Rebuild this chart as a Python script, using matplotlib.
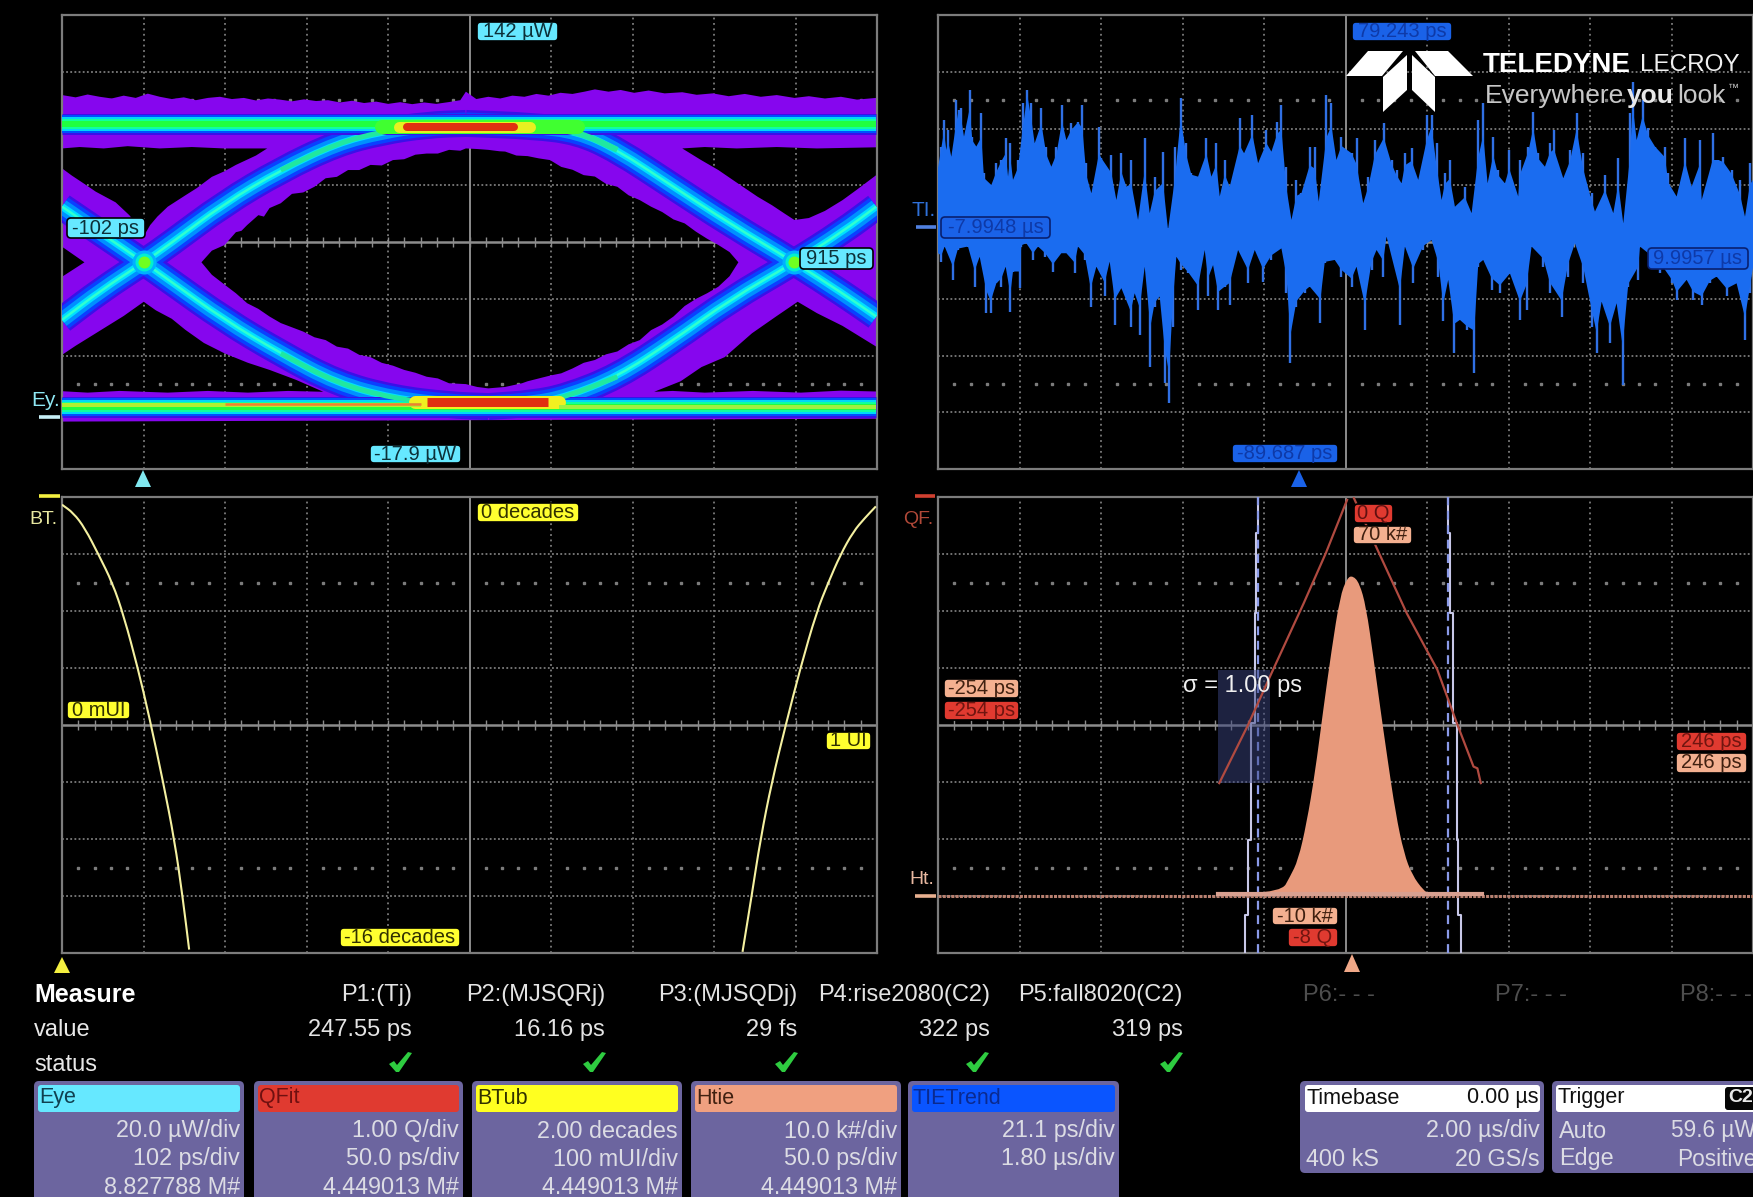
import numpy as np
import matplotlib
matplotlib.use("Agg")
import matplotlib.pyplot as plt
from matplotlib.patches import FancyBboxPatch, Polygon, Rectangle, PathPatch
from matplotlib.path import Path

W, H = 1753, 1197
FONT = ['Liberation Sans', 'DejaVu Sans']
plt.rcParams['font.family'] = FONT

# ---------- Eye diagram (x in ps, y in uW) ----------
eye_xlim = (-102, 915)
eye_ylim = (-17.9, 142)
eye_top_x = [-102,-85,-70,-55,-40,-25,-10,5,20,35,50,65,80,95,110,125,140,155,170,185,200,215,230,245,260,275,290,305,320,335,350,365,380,395,402,415,430,445,460,475,490,505,520,535,550,563,580,595,612,630,650,672,690,710,730,750,770,790,812,830,850,870,890,914]
eye_top_y = [113.8,113.0,114.0,113.2,112.6,113.6,112.8,114.3,113.2,112.4,113.0,112.0,112.8,113.2,112.4,112.8,111.9,112.6,112.2,111.6,112.3,111.7,112.0,111.2,111.8,111.0,111.5,110.7,111.3,110.6,111.2,110.7,111.3,112.0,115.0,112.4,113.2,112.6,113.6,113.2,114.2,113.6,114.6,114.2,115.0,115.8,115.0,115.6,114.6,115.4,114.4,114.8,113.9,114.4,113.4,114.2,113.2,113.8,112.8,113.4,112.6,113.2,112.2,112.8]
eye_bot_x = [-102,914]
eye_bot_y = [-1.2,-0.2]
hole_center_x = [72,85,101,115,122,129,143,150,157,171,185,199,213,227,241,255,269,283,297,311,325,339,353,367,381,395,402,416,430,444,451,465,479,493,507,521,535,549,563,577,591,605,619,633,647,661,675,689,703,717,731,742,731,717,703,689,675,661,647,633,619,605,591,577,563,549,535,521,507,493,479,472,451,430,416,402,381,367,353,339,325,311,297,283,269,255,241,227,213,199,185,171,157,143,129,115,101,85]
hole_center_y = [54.9,59,61,65.5,66,68,71.5,71,74,75.7,79,79.5,81.5,84.5,85,87.4,87.4,89.2,89,90.9,91.2,92.8,93.2,93.2,94.5,94.2,95,94.8,94.5,94,93.9,92.5,92.3,91.5,90.9,88.5,87.5,85.6,85.1,82.5,81.5,78.5,76.8,74.5,72.6,70,68.6,65.7,63.2,61,58.5,54.9,50,46.3,44,42,39.5,35.8,33,31,27.5,26,23.5,22.5,20.5,19.5,17.5,15.8,15,14,13,12.3,11,10.5,11,12,12.3,14,14.6,16,17,18.5,19.5,21.5,22.3,24.5,25.2,27.5,28.5,30.5,32,33.5,35.8,38.5,40.5,44,47,50.5]
hole_ul_x = [-102,-80,-50,-20,20,60,100,154,140,115,101,85,66,52,30,17,8,2,-8,-18,-35,-60,-74,-90,-102]
hole_ul_y = [95,95.5,95,95.8,95,95.5,95,95,92.5,89.2,87,85,81,78.5,74.5,71,68,65.1,68,71.5,76,79.8,82.5,85.5,88]
hole_ur_x = [672,700,740,790,840,914,914,890,872,850,830,812,800,784,766,745,717,695]
hole_ur_y = [95,95.5,95,95.5,95,95.4,85.6,80.5,76.8,73,70.5,69.8,72,75,78,82,87.4,91]
hole_ll_x = [-102,-85,-53,-25,0,15,35,52,75,101,130,157,190,224,180,130,80,30,-30,-70,-102]
hole_ll_y = [22.3,25.5,31.1,36,41,38,35,31.1,26.5,22.8,19.5,17,13.5,9.3,9.6,9,9.6,9,9.6,9,9.5]
hole_lr_x = [637,670,696,725,759,790,816,840,872,914,914,870,820,760,700,660]
hole_lr_y = [9.3,13,18,21.5,29.9,36,41,37,32.5,25.2,9.4,9.7,9,9.6,9,9.6]
hole_notch_x = [-102,-74,-102]
hole_notch_y = [60.4,54.9,49.8]
rise_a_x = [-102,-53,0,31,101,171,241,297,353,402]
rise_a_y = [34.6,45.1,54.9,61,75.7,87.4,96.8,100.9,103.3,103.8]
fall_a_x = [-102,-53,0,31,101,171,241,311,381,430]
fall_a_y = [74.5,65.1,54.9,48.7,34.6,22.8,12.3,7,4.6,4.1]
fall_b_x = [402,486,542,591,661,731,812,872,914]
fall_b_y = [103.8,102.9,100.9,94.5,81.5,68.6,54.9,44,35.8]
rise_b_x = [430,486,528,591,661,731,812,872,914]
rise_b_y = [4.1,5.2,7.6,14.6,27.5,41.6,54.9,65.7,74.5]
rail_x = [-102,914]
rail_top_y = [103.6,103.6]
rail_bot_y = [4.1,4.1]
cross_x = [0,812]
cross_y = [54.9,54.9]

# ---------- TIE trend (x in us, y in ps) ----------
tie_xlim = (-7.9948,9.9957)
tie_ylim = (-89.687,79.243)
tie_up_t = [-7.995,-7.936,-7.863,-7.811,-7.774,-7.701,-7.590,-7.539,-7.480,-7.421,-7.296,-7.237,-7.149,-7.038,-6.979,-6.817,-6.707,-6.597,-6.501,-6.449,-6.398,-6.339,-6.229,-6.118,-6.023,-5.934,-5.861,-5.713,-5.603,-5.493,-5.382,-5.257,-5.161,-5.051,-4.904,-4.808,-4.720,-4.609,-4.440,-4.389,-4.168,-4.057,-3.947,-3.837,-3.726,-3.579,-3.432,-3.321,-3.211,-3.027,-2.917,-2.769,-2.637,-2.512,-2.401,-2.254,-2.070,-1.960,-1.849,-1.776,-1.665,-1.555,-1.334,-1.238,-1.055,-0.929,-0.745,-0.635,-0.503,-0.414,-0.304,-0.193,-0.083,0.027,0.211,0.322,0.410,0.579,0.690,0.800,0.911,1.134,1.244,1.392,1.502,1.649,1.848,2.017,2.128,2.238,2.312,2.459,2.606,2.790,2.900,3.011,3.121,3.195,3.305,3.416,3.636,3.784,3.931,4.041,4.137,4.262,4.372,4.520,4.615,4.814,4.851,5.035,5.145,5.256,5.403,5.513,5.602,5.808,5.955,6.102,6.249,6.433,6.507,6.728,6.912,7.022,7.132,7.280,7.338,7.427,7.559,7.684,7.832,8.052,8.126,8.310,8.494,8.641,8.825,8.862,9.105,9.230,9.340,9.524,9.708,9.819,9.929,9.996]
tie_up_v = [25.3,30.3,40.2,29.0,36.5,26.5,47.6,43.9,44.5,34.0,51.3,34.0,30.3,42.7,20.3,16.0,24.1,25.3,33.4,19.1,31.5,17.9,25.3,46.4,51.3,46.4,31.5,44.5,30.3,22.8,30.3,45.8,32.7,39.0,39.6,45.8,24.1,12.9,37.7,26.0,27.2,10.4,27.8,15.4,25.3,3.0,33.4,5.5,19.1,28.4,-0.7,30.3,48.2,31.5,20.3,19.1,33.4,19.1,31.5,11.7,25.3,15.4,40.8,27.8,42.0,24.1,36.5,28.4,39.6,45.8,22.8,3.0,17.9,12.9,30.3,30.3,9.8,49.5,46.4,25.3,34.0,27.8,33.4,9.2,19.1,32.7,39.0,25.3,21.6,16.6,27.8,29.6,17.9,42.0,42.0,31.5,10.4,20.3,25.3,7.9,15.4,5.5,40.2,46.4,16.6,34.0,21.6,16.6,29.0,11.7,25.3,30.3,43.3,27.8,22.8,31.5,36.5,18.5,29.0,42.7,27.8,12.9,6.1,19.7,5.5,25.9,1.7,42.7,54.4,32.7,47.6,37.1,30.3,30.3,20.3,11.7,33.4,15.4,32.7,10.4,35.2,25.3,26.5,21.6,17.9,4.2,24.1,17.9]
tie_lo_t = [-7.995,-7.921,-7.848,-7.664,-7.553,-7.333,-7.185,-7.075,-6.928,-6.832,-6.707,-6.597,-6.501,-6.398,-6.339,-6.192,-6.155,-6.045,-5.897,-5.787,-5.640,-5.456,-5.272,-5.161,-4.977,-4.904,-4.757,-4.624,-4.499,-4.315,-4.205,-4.094,-3.947,-3.741,-3.653,-3.542,-3.432,-3.307,-3.211,-3.101,-2.990,-2.895,-2.806,-2.733,-2.622,-2.475,-2.254,-2.107,-2.033,-1.923,-1.813,-1.665,-1.555,-1.371,-1.150,-1.003,-0.819,-0.635,-0.414,-0.304,-0.215,-0.083,0.101,0.211,0.447,0.543,0.763,0.911,1.134,1.244,1.428,1.576,1.686,1.833,1.907,2.201,2.312,2.496,2.716,2.900,3.048,3.158,3.268,3.401,3.526,3.673,3.842,3.931,4.041,4.225,4.409,4.630,4.851,4.998,5.108,5.366,5.513,5.771,5.918,6.065,6.249,6.433,6.544,6.654,6.838,6.985,7.118,7.243,7.464,7.500,7.942,8.200,8.310,8.531,8.678,8.862,9.046,9.193,9.414,9.634,9.819,9.929,9.996]
tie_lo_v = [-9.4,-12.5,-6.9,-19.3,-8.2,-6.9,-21.8,-10.7,-31.7,-31.7,-20.6,-21.8,-14.4,-31.1,-16.2,-22.4,-6.9,-5.7,-11.9,-6.9,-10.7,-16.2,-9.4,-9.4,-16.9,-6.9,-11.9,-29.3,-14.4,-25.5,-12.5,-36.1,-22.4,-36.7,-24.3,-39.8,-14.4,-51.6,-29.3,-25.5,-57.8,-65.2,-36.7,-10.7,-15.6,-16.9,-30.5,-8.2,-25.5,-13.8,-30.5,-21.8,-28.6,-8.2,-20.6,-8.2,-20.0,-11.9,-7.6,-24.3,-50.3,-29.3,-24.3,-21.8,-35.5,-13.1,-11.9,-18.1,-21.8,-14.4,-37.9,-15.6,-8.2,-18.1,-3.2,-36.1,-6.9,-20.6,-8.2,-4.5,-18.1,-34.8,-19.3,-46.6,-34.2,-37.9,-54.1,-14.4,-11.9,-23.1,-24.3,-16.9,-34.2,-30.5,-6.9,-14.4,-24.3,-33.0,-18.1,-5.7,-20.6,-36.7,-46.6,-27.4,-42.9,-28.0,-58.4,-21.8,-19.3,-6.9,-16.9,-20.6,-26.8,-19.3,-26.8,-28.6,-20.6,-18.1,-25.5,-20.6,-41.7,-24.3,-18.1]

# ---------- Bathtub (x in UI, y in decades) ----------
tub_l_x = [0,0.014,0.028,0.045,0.062,0.076,0.093,0.107,0.124,0.138,0.148,0.156]
tub_l_y = [-0.27,-0.56,-1.09,-2.03,-3.02,-4.19,-6.0,-7.7,-9.99,-12.04,-14.03,-15.88]
tub_r_x = [0.835,0.846,0.857,0.871,0.888,0.906,0.926,0.94,0.955,0.971,0.985,0.9986]
tub_r_y = [-15.96,-14.03,-12.01,-9.99,-8.0,-6.0,-4.02,-3.02,-2.03,-1.21,-0.74,-0.33]

# ---------- Histogram + Q fit (x in ps, y in k# / Q) ----------
hist_x = [-81,-41.5,-36.3,-31.2,-26,-20.8,-15.7,-10.5,-5.3,-0.9,2.6,6.7,10.8,15.3,19.5,23.9,29.1,34.3,39.4,46.3,49.8,82.5]
hist_y = [0.3,0.72,3.35,6.28,12.72,21.5,32.6,43.2,52.5,55.8,56.2,54.9,50.8,42,33.2,24.4,14.5,7.45,3.65,1.0,0.42,0.3]
qfit_l_x = [-80,-62.2,-46.7,-27.7,-14,-0.9]
qfit_l_y = [-5.02,-4.0,-3.03,-1.86,-0.98,-0.05]
qfit_r_x = [3.3,17,36,54.9,67,77.3,79.7,81.8]
qfit_r_y = [-0.02,-0.87,-2.04,-3.03,-3.97,-4.73,-4.76,-5.02]
edge_y = [70,63.7,63.7,49.6,49.6,30.3,30.3,9.8,9.8,-3.4,-3.4,-10]
edge_l_x = [-56,-56,-57,-57,-58,-58,-60.4,-60.4,-62.2,-62.2,-63.9,-63.9]
edge_r_x = [61.8,61.8,62.8,62.8,64.6,64.6,67,67,68,68,69.7,69.7]
dash_x = [-56,61.8]
sigma_box = (-81,-48.4,-5.02,-3.03)

# ---------- Readout table ----------
meas_names = ['P1:(Tj)','P2:(MJSQRj)','P3:(MJSQDj)','P4:rise2080(C2)','P5:fall8020(C2)']
meas_vals = ['247.55 ps','16.16 ps','29 fs','322 ps','319 ps']
meas_right = [412,605,797,990,1183]
check_x = [400,594,786,977,1171]
idle_names = ['P6:- - -','P7:- - -','P8:- - -']
idle_left = [1303,1495,1680]
cards = [
    ('Eye','#66e8ff','#104050',34,244,['20.0 µW/div','102 ps/div','8.827788 M#']),
    ('QFit','#e03a30','#701010',254,463,['1.00 Q/div','50.0 ps/div','4.449013 M#']),
    ('BTub','#ffff20','#303000',472,682,['2.00 decades','100 mUI/div','4.449013 M#']),
    ('Htie','#f0a080','#402010',691,901,['10.0 k#/div','50.0 ps/div','4.449013 M#']),
    ('TIETrend','#0a55ff','#0a2a90',908,1119,['21.1 ps/div','1.80 µs/div','']),
]
CARD = '#6c659f'
CARDTXT = '#dcdce4'
GRID = '#7c7c7c'

fig = plt.figure(figsize=(W/100, H/100), dpi=100, facecolor='black')

def px(l):
    return l*72/100

def smooth_path(x, y):
    verts = [(x[0], y[0])]
    codes = [Path.MOVETO]
    for i in range(1, len(x)-1):
        verts.append(((x[i-1]+x[i])/2, (y[i-1]+y[i])/2)); codes.append(Path.LINETO)
        verts.append((x[i], y[i])); codes.append(Path.CURVE3)
        verts.append(((x[i]+x[i+1])/2, (y[i]+y[i+1])/2)); codes.append(Path.CURVE3)
    verts.append((x[-1], y[-1])); codes.append(Path.LINETO)
    return verts, codes

def smooth(ax, x, y, color, lw, z):
    v, c = smooth_path(x, y)
    ax.add_patch(PathPatch(Path(v, c), fc='none', ec=color, lw=lw, capstyle='butt', joinstyle='round', zorder=z))

def panel(x0, y0, x1, y1):
    ax = fig.add_axes([x0/W, 1-y1/H, (x1-x0)/W, (y1-y0)/H], facecolor='black')
    ax.set_xticks([]); ax.set_yticks([])
    for s in ax.spines.values():
        s.set_color('#7c7c7c'); s.set_linewidth(1.6)
    t = ax.transAxes
    for i in range(1,10):
        if i != 5:
            ax.plot([i/10,i/10],[0,1],transform=t,color=GRID,lw=1.3,ls=(0,(1,2)),zorder=1)
    for j in range(1,8):
        if j != 4:
            ax.plot([0,1],[j/8,j/8],transform=t,color=GRID,lw=1.3,ls=(0,(1,1.3)),zorder=1)
    minor = [k/50 for k in range(1,50) if k % 5]
    for yy in (1.5/8, 6.5/8):
        ax.plot(minor,[yy]*len(minor),ls='',marker='s',ms=1.5,color=GRID,transform=t,zorder=1)
    ax.plot([0.5,0.5],[0,1],transform=t,color='#8c8c8c',lw=1.4,zorder=1)
    ax.plot([0,1],[0.5,0.5],transform=t,color='#8c8c8c',lw=1.8,zorder=1)
    ticks = [k/50 for k in range(1,50)]
    ax.vlines(ticks,0.488,0.512,transform=t,color='#8c8c8c',lw=1.0,zorder=1)
    return ax

def ring(x, y, ccw):
    x = list(x); y = list(y)
    area = sum(x[i]*y[(i+1)%len(x)]-x[(i+1)%len(x)]*y[i] for i in range(len(x)))
    if (area > 0) != ccw:
        x, y = x[::-1], y[::-1]
    return x, y

# ---- Eye panel ----
ax = panel(62,15,877,469)
ax.set_xlim(*eye_xlim); ax.set_ylim(*eye_ylim)
PUR = '#8606ee'
ox, oy = ring(eye_top_x+eye_bot_x[::-1], eye_top_y+eye_bot_y[::-1], True)
verts = []; codes = []
def add_ring(x, y):
    verts.extend(zip(x, y)); verts.append((x[0], y[0]))
    codes.extend([Path.MOVETO]+[Path.LINETO]*(len(x)-1)+[Path.CLOSEPOLY])
add_ring(ox, oy)
for hx, hy in [(hole_center_x,hole_center_y),(hole_ul_x,hole_ul_y),(hole_ur_x,hole_ur_y),
               (hole_ll_x,hole_ll_y),(hole_lr_x,hole_lr_y),(hole_notch_x,hole_notch_y)]:
    add_ring(*ring(hx, hy, False))
ax.add_patch(PathPatch(Path(verts, codes), fc=PUR, ec='none', zorder=2))
curves = [(rise_a_x,rise_a_y),(fall_a_x,fall_a_y),(fall_b_x,fall_b_y),(rise_b_x,rise_b_y)]
for lw_px, c in [(27,'#3a10e8'),(22,'#0a40ff'),(15,'#0090ff'),(7,'#00e0ff'),(2.5,'#30ffd0')]:
    for cx, cy in curves:
        smooth(ax, cx, cy, c, px(lw_px), 4)
for lw_px, c in [(21,'#3a10e8'),(18,'#0050ff'),(14,'#00d8f8'),(10,'#10ffa0'),(6,'#20ff40')]:
    ax.plot(rail_x, rail_top_y, color=c, lw=px(lw_px), solid_capstyle='butt', zorder=5)
    ax.plot(rail_x, rail_bot_y, color=c, lw=px(lw_px), solid_capstyle='butt', zorder=5)
# warm zones where traces pile up
smooth(ax, rise_a_x[5:9], rise_a_y[5:9], '#20e8a0', px(5), 5)
smooth(ax, fall_b_x[0:4], fall_b_y[0:4], '#20e8a0', px(6), 5)
smooth(ax, fall_a_x[5:9], fall_a_y[5:9], '#20e8a0', px(5), 5)
smooth(ax, rise_b_x[0:4], rise_b_y[0:4], '#20e8a0', px(5), 5)
ax.plot([297,542],[102.7,102.7], color='#40ff30', lw=px(14), solid_capstyle='round', zorder=6)
ax.plot([318,482],[102.7,102.7], color='#e8f020', lw=px(11), solid_capstyle='round', zorder=6)
ax.plot([328,462],[102.5,102.5], color='#e03010', lw=px(8), solid_capstyle='round', zorder=6)
ax.plot([339,518],[5.6,5.6], color='#f0f020', lw=px(13), solid_capstyle='round', zorder=6)
ax.plot([353,504],[5.6,5.6], color='#e03010', lw=px(9), solid_capstyle='butt', zorder=6)
ax.plot([-102,346],[4.6,4.6], color='#b0f030', lw=px(4), solid_capstyle='butt', zorder=6)
ax.plot([101,346],[5.0,5.0], color='#f08030', lw=px(2.5), solid_capstyle='butt', zorder=6)
ax.plot([518,914],[4.1,4.1], color='#a0f040', lw=px(4), solid_capstyle='butt', zorder=6)
ax.plot(cross_x, cross_y, ls='', marker='o', ms=px(24), color='#00b0ff', mew=0, zorder=6)
ax.plot(cross_x, cross_y, ls='', marker='o', ms=px(18), color='#00f0d0', mew=0, zorder=6)
ax.plot(cross_x, cross_y, ls='', marker='o', ms=px(12), color='#70ff20', mew=0, zorder=6)

# ---- TIE panel ----
ax = panel(938,15,1753,469)
ax.set_xlim(*tie_xlim); ax.set_ylim(*tie_ylim)
BLUE = '#1a6cf0'
up = np.array(tie_up_v); lo = np.array(tie_lo_v)
up_valley = np.minimum.reduce([np.roll(up,1),up,np.roll(up,-1)])
lo_valley = np.maximum.reduce([np.roll(lo,1),lo,np.roll(lo,-1)])
up_body = 0.6*up+0.4*up_valley
lo_body = 0.6*lo+0.4*lo_valley
ax.vlines(tie_up_t, 0, tie_up_v, color='#3070e4', lw=1.7, zorder=2.5)
ax.vlines(tie_lo_t, tie_lo_v, 0, color='#3070e4', lw=1.7, zorder=2.5)
ax.fill(list(tie_up_t)+tie_lo_t[::-1], list(up_body)+list(lo_body[::-1]), color=BLUE, lw=0, zorder=3)

# ---- Bathtub ----
ax = panel(62,497,877,953)
ax.set_xlim(0,1); ax.set_ylim(-16,0)
smooth(ax, tub_l_x, tub_l_y, '#f4f0a0', 1.5, 3)
smooth(ax, tub_r_x, tub_r_y, '#f4f0a0', 1.5, 3)

# ---- Histogram ----
ax = panel(938,497,1753,953)
ax.set_xlim(-254,250.2); ax.set_ylim(-10,70)
hv, hc = smooth_path(hist_x, hist_y)
hv += [(hist_x[-1],0),(hist_x[0],0),(hist_x[0],0)]
hc += [Path.LINETO,Path.LINETO,Path.CLOSEPOLY]
ax.add_patch(PathPatch(Path(hv,hc), fc='#e89a7c', ec='none', zorder=4))
ax.plot([-254,250],[0,0], color='#b88070', lw=2.2, ls=(0,(1,0.4)), zorder=4)
ax.plot([-81,82.5],[0.3,0.3], color='#d8a090', lw=3, zorder=4)
ax.plot(edge_l_x, edge_y, color='#c8c8e8', lw=1.5, zorder=3)
ax.plot(edge_r_x, edge_y, color='#c8c8e8', lw=1.5, zorder=3)
ax.vlines(dash_x, -10, 70, color='#8a9ae8', lw=1.6, ls=(0,(4,2.5)), zorder=3)
q = ax.twinx()
q.set_zorder(ax.get_zorder()+1); q.patch.set_visible(False)
q.set_ylim(-8,0); q.set_yticks([])
for s in q.spines.values():
    s.set_visible(False)
q.add_patch(Rectangle((sigma_box[0],sigma_box[2]),sigma_box[1]-sigma_box[0],sigma_box[3]-sigma_box[2],
                      fc='#3a4480',alpha=0.5,lw=0,zorder=2))
q.plot(qfit_l_x, qfit_l_y, color='#b04a40', lw=1.6, zorder=3)
q.plot(qfit_r_x, qfit_r_y, color='#b04a40', lw=1.6, zorder=3)

# ---- Pixel overlay for readout furniture ----
ov = fig.add_axes([0,0,1,1], facecolor='none', zorder=20)
ov.set_xlim(0,W); ov.set_ylim(H,0); ov.axis('off')

def txt(x,y,s,color='#e0e0e0',size=17,ha='left',weight='normal',family=None):
    ov.text(x,y,s,color=color,fontsize=size,ha=ha,va='center',fontweight=weight,family=family or FONT)

def box(x0,y0,x1,y1,fc,ec='none',r=3,lw=1.2,z=2):
    ov.add_patch(FancyBboxPatch((x0+r,y0+r),x1-x0-2*r,y1-y0-2*r,boxstyle=f'round,pad={r},rounding_size={r}',
                                fc=fc,ec=ec,lw=lw,zorder=z))

def tag(x0,y0,x1,y1,s,fc,tc,ec='#000000',size=14.5):
    box(x0,y0,x1,y1,fc,ec=ec,r=4)
    ov.text((x0+x1)/2,(y0+y1)/2,s,color=tc,fontsize=size,ha='center',va='center',zorder=3)

CY='#66e8ff'; BL='#1a62e8'; YE='#ffff30'; RD='#e03a30'; SA='#f4b090'
tag(477,22,558,41,'142 µW',CY,'#0c3038')
tag(67,218,145,238,'-102 ps',CY,'#0c3038')
tag(800,248,873,269,'915 ps',CY,'#0c3038')
tag(370,445,461,463,'-17.9 µW',CY,'#0c3038')
tag(1352,22,1452,41,'79.243 ps',BL,'#0e3aa8')
tag(941,217,1050,238,'-7.9948 µs',BL,'#0e3aa8',ec='#082070')
tag(1648,248,1748,269,'9.9957 µs',BL,'#0e3aa8',ec='#082070')
tag(1232,444,1338,463,'-89.687 ps',BL,'#0e3aa8')
tag(477,503,579,522,'0 decades',YE,'#303000')
tag(67,701,130,719,'0 mUI',YE,'#303000')
tag(826,732,871,750,'1 UI',YE,'#303000')
tag(340,928,460,947,'-16 decades',YE,'#303000')
tag(1354,504,1393,523,'0 Q',RD,'#601010')
tag(1353,526,1412,544,'70 k#',SA,'#402010')
tag(944,679,1019,698,'-254 ps',SA,'#402010')
tag(944,701,1019,720,'-254 ps',RD,'#701510')
tag(1676,732,1747,751,'246 ps',RD,'#701510')
tag(1676,753,1747,773,'246 ps',SA,'#402010')
tag(1272,907,1338,925,'-10 k#',SA,'#402010')
tag(1288,928,1338,947,'-8 Q',RD,'#701510')
txt(1183,686,'σ = 1.00 ps','#f0f0f0',17)

txt(31,401,'Ey.','#8fe8f4',15)
txt(912,211,'TI.','#2f70d8',15)
txt(29,520,'BT.','#e8e8a0',14)
txt(903,520,'QF.','#b04838',14)
txt(909,880,'Ht.','#e8b8a0',14)
for xa,xb,yy,c in [(39,60,417,'#c8f0f8'),(916,936,227,'#5080e0'),(39,60,496,'#f4f040'),(915,935,496,'#d04030'),(915,936,896,'#e8b090')]:
    ov.plot([xa,xb],[yy,yy],color=c,lw=2.6,solid_capstyle='butt')
for xc,yt,yb,c in [(143,470,487,'#80e8f0'),(1299,470,487,'#1a62e8'),(62,957,973,'#f4f040'),(1352,954,972,'#f0a888')]:
    ov.add_patch(Polygon([(xc,yt),(xc+8,yb),(xc-8,yb)],fc=c,ec='none'))

# logo
for pts in ([(1368,51),(1403,51),(1382,76),(1346,76)],[(1415,51),(1448,51),(1473,76),(1435,76)],
            [(1407,55),(1407,90),(1383,112),(1383,77)],[(1412,55),(1435,77),(1435,112),(1412,90)]):
    ov.add_patch(Polygon(pts,fc='white',ec='none'))
txt(1483,65,'TELEDYNE','white',20,weight='bold')
txt(1640,65,'LECROY','#f0f0f0',17.5)
txt(1485,96,'Everywhere','#c8c8c8',19)
txt(1627,96,'you','#e8e8e8',19,weight='bold')
txt(1677,96,'look','#c8c8c8',19)
txt(1728,88,'™','#c8c8c8',8)

# table
txt(34,995,'Measure','white',18,weight='bold')
txt(34,1030,'value','#e8e8e8',17)
txt(34,1065,'status','#e8e8e8',17)
for n,v,r,c in zip(meas_names,meas_vals,meas_right,check_x):
    txt(r,995,n,'#e4e4e4',17,ha='right')
    txt(r,1030,v,'#e4e4e4',17,ha='right')
    ov.add_patch(Polygon([(c-11,1064),(c-6,1061),(c-3,1065),(c+8,1052),(c+12,1053),(c-1,1072),(c-4,1072)],fc='#2ecc40',ec='none'))
for n,l in zip(idle_names,idle_left):
    txt(l,995,n,'#4e4e4e',17)

# cards
for name,hc,tc,x0,x1,lines in cards:
    box(x0,1081,x1,1215,CARD,r=5)
    box(x0+4,1085,x1-4,1112,hc,r=3,z=3)
    ov.text(x0+5,1098,name,color=tc,fontsize=15.5,va='center',zorder=4)
    for yy,s in zip((1131,1159,1187),lines):
        ov.text(x1-4,yy,s,color=CARDTXT,fontsize=16.8,ha='right',va='center',zorder=4)
box(1300,1081,1544,1173,CARD,r=5)
box(1305,1085,1540,1112,'white',r=3,z=3)
ov.text(1307,1098,'Timebase',color='#101010',fontsize=15.5,va='center',zorder=4)
ov.text(1539,1098,'0.00 µs',color='#101010',fontsize=15.5,ha='right',va='center',zorder=4)
ov.text(1540,1131,'2.00 µs/div',color=CARDTXT,fontsize=16.8,ha='right',va='center',zorder=4)
ov.text(1306,1159,'400 kS',color=CARDTXT,fontsize=16.8,va='center',zorder=4)
ov.text(1540,1159,'20 GS/s',color=CARDTXT,fontsize=16.8,ha='right',va='center',zorder=4)
box(1552,1081,1770,1173,CARD,r=5)
box(1556,1085,1770,1112,'white',r=3,z=3)
ov.text(1558,1098,'Trigger',color='#101010',fontsize=15.5,va='center',zorder=4)
box(1725,1087,1770,1110,'#050505',r=3,z=4)
ov.text(1728,1098,'C2',color='#e8e8e8',fontsize=14,va='center',zorder=5,fontweight='bold')
ov.text(1559,1131,'Auto',color=CARDTXT,fontsize=16.8,va='center',zorder=4)
ov.text(1559,1159,'Edge',color=CARDTXT,fontsize=16.8,va='center',zorder=4)
ov.text(1671,1131,'59.6 µW',color=CARDTXT,fontsize=16.3,va='center',zorder=4)
ov.text(1677,1159,'Positive',color=CARDTXT,fontsize=16.3,va='center',zorder=4)

fig.savefig('out.png', dpi=100, facecolor='black')
